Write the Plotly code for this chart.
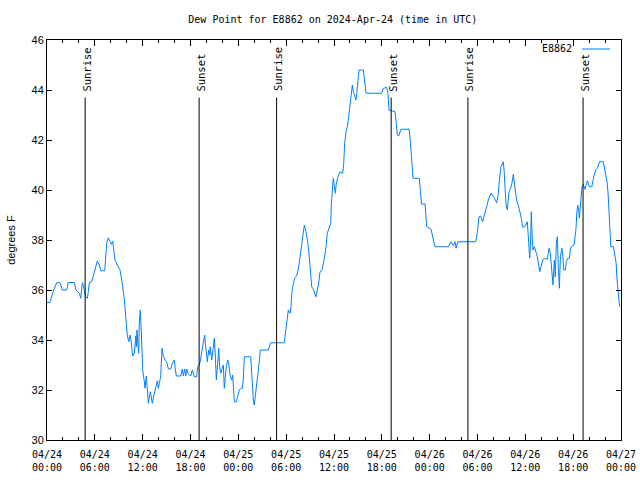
import pandas as pd
import plotly.graph_objects as go

start = pd.Timestamp("2024-04-24 00:00")
end = pd.Timestamp("2024-04-27 00:00")

# hours after 2024-04-24 00:00 UTC
obs_hours = [
    0.0, 0.38, 0.79, 1.22, 1.63, 1.92, 2.47, 2.67, 3.42, 3.64, 4.05, 4.23, 4.43, 4.60, 4.85,
    5.06, 5.18, 5.31, 5.61, 5.81, 6.02, 6.31, 6.56, 6.77, 7.24, 7.36, 7.49, 7.69, 7.90, 8.07,
    8.24, 8.37, 8.53, 8.82, 9.16, 9.41, 9.57, 9.70, 9.82, 9.91, 10.07, 10.25, 10.41, 10.54,
    10.66, 10.75, 10.95, 11.13, 11.20, 11.29, 11.41, 11.50, 11.58, 11.70, 11.83, 11.92, 12.00,
    12.21, 12.29, 12.46, 12.51, 12.63, 12.71, 12.83, 12.96, 13.08, 13.21, 13.42, 13.55, 13.71,
    13.84, 13.96, 14.09, 14.26, 14.43, 14.59, 14.80, 15.01, 15.22, 15.52, 15.72, 15.97, 16.06,
    16.22, 16.77, 16.97, 17.10, 17.27, 17.40, 17.52, 17.65, 18.03, 18.23, 18.48, 18.78, 18.90,
    19.07, 19.23, 19.44, 19.61, 19.78, 19.91, 20.11, 20.28, 20.41, 20.48, 20.66, 20.82, 20.99,
    21.11, 21.24, 21.41, 21.54, 21.66, 21.79, 21.99, 22.12, 22.24, 22.37, 22.49, 22.67, 22.79,
    22.96, 23.17, 23.29, 23.42, 23.50, 23.75, 23.92, 24.12, 24.34, 24.50, 24.62, 24.75, 25.55,
    25.68, 25.88, 26.00, 26.22, 26.38, 26.51, 26.63, 26.76, 27.76, 28.06, 29.77, 29.85, 29.94,
    30.07, 30.19, 30.27, 30.48, 30.61, 30.69, 30.82, 31.07, 31.32, 31.57, 31.82, 31.99, 32.15,
    32.28, 32.49, 32.70, 32.90, 33.08, 33.20, 33.40, 33.74, 33.90, 34.08, 34.24, 34.50, 34.75,
    35.00, 35.16, 35.41, 35.59, 35.66, 35.79, 35.91, 36.16, 36.29, 36.50, 36.75, 37.09, 37.22,
    37.34, 37.51, 37.72, 37.85, 38.01, 38.17, 38.30, 38.45, 38.63, 38.76, 38.85, 38.97, 39.14,
    39.68, 39.80, 40.02, 41.98, 42.18, 42.61, 42.77, 42.90, 43.65, 43.77, 43.94, 44.12, 44.41,
    45.41, 45.53, 45.75, 45.91, 46.70, 46.85, 46.97, 47.42, 47.63, 48.17, 48.29, 48.46, 48.67,
    50.34, 50.68, 50.97, 51.18, 51.31, 51.52, 53.77, 53.97, 54.19, 54.40, 54.65, 54.85, 55.07,
    55.36, 55.69, 56.07, 56.41, 56.61, 56.73, 56.95, 57.24, 57.36, 57.58, 57.74, 57.95, 58.16,
    58.36, 58.49, 58.66, 58.91, 59.16, 59.42, 59.67, 59.96, 60.25, 60.46, 60.55, 60.67, 60.75,
    60.88, 60.96, 61.13, 61.26, 61.38, 61.51, 61.68, 61.81, 61.97, 62.18, 62.38, 62.76, 62.97,
    63.14, 63.31, 63.47, 63.64, 63.76, 63.89, 64.02, 64.14, 64.27, 64.40, 64.57, 64.70, 64.82,
    65.02, 65.15, 65.33, 65.53, 65.66, 65.87, 66.12, 66.24, 66.36, 66.45, 66.57, 66.70, 66.78,
    66.86, 66.95, 67.11, 67.28, 67.49, 67.62, 67.79, 68.04, 68.34, 68.46, 68.63, 68.88, 69.04,
    69.17, 69.29, 69.78, 69.92, 70.04, 70.25, 70.38, 70.51, 70.60, 70.72, 71.05, 71.26, 71.39,
    71.48, 71.60, 71.77, 71.85,
]

dew_point_f = [
    35.5, 35.5, 35.96, 36.29, 36.3, 36.0, 36.0, 36.3, 36.3, 36.0, 35.87, 35.67, 36.3, 36.13, 35.73,
    35.67, 35.93, 36.3, 36.33, 36.6, 36.87, 37.16, 37.0, 36.77, 36.77, 37.47, 37.87, 38.09, 37.93, 37.83,
    37.95, 37.6, 37.2, 37.0, 36.8, 36.33, 36.03, 35.63, 35.13, 34.6, 34.2, 33.93, 34.2, 34.0,
    33.6, 33.37, 33.47, 34.16, 33.73, 34.4, 33.8, 33.47, 34.71, 35.2, 34.33, 33.6, 32.8,
    32.33, 32.07, 32.56, 32.13, 31.84, 31.47, 31.8, 31.93, 31.73, 31.47, 31.8, 32.0, 32.24,
    32.37, 32.07, 32.27, 32.53, 33.67, 33.36, 33.2, 33.13, 32.84, 32.84, 33.07, 33.2, 32.93,
    32.56, 32.56, 32.84, 32.56, 32.84, 32.56, 32.84, 32.67, 32.56, 32.8, 32.53, 32.53, 32.93,
    33.0, 33.13, 33.6, 34.0, 34.2, 33.7, 33.13, 33.6, 33.4, 33.73, 33.2, 33.6, 34.07,
    33.4, 32.4, 33.07, 33.67, 32.93, 32.67, 32.87, 33.0, 32.07, 32.67, 32.93, 33.2, 33.07,
    32.6, 32.4, 32.6, 31.8, 31.53, 31.53, 31.73, 32.0, 32.07, 32.07, 32.4, 33.33, 33.33,
    32.4, 31.6, 31.4, 31.93, 32.33, 32.73, 33.13, 33.6, 33.6, 33.89, 33.89, 34.13, 34.4,
    34.8, 35.2, 35.2, 35.07, 35.33, 35.8, 36.13, 36.47, 36.57, 36.93, 37.6, 38.0, 38.4,
    38.6, 38.33, 37.93, 37.33, 36.4, 36.13, 36.03, 35.73, 36.0, 36.27, 36.73, 36.8, 37.2,
    37.73, 38.27, 38.47, 38.67, 39.4, 39.93, 40.47, 39.87, 40.27, 40.53, 40.73, 40.67, 41.07,
    41.87, 42.33, 42.6, 43.0, 43.47, 43.87, 44.2, 43.9, 43.73, 43.6, 43.87, 44.2, 44.8,
    44.8, 44.4, 43.87, 43.87, 44.07, 44.1, 43.87, 43.2, 43.13, 42.8, 42.2, 42.16, 42.43,
    42.43, 42.13, 41.2, 40.47, 40.47, 40.0, 39.44, 39.44, 38.53, 38.43, 38.27, 38.0, 37.73,
    37.73, 37.93, 37.77, 37.93, 37.67, 37.93, 37.93, 38.27, 38.93, 38.96, 38.73, 39.0, 39.33,
    39.6, 39.87, 39.7, 39.49, 39.87, 40.33, 40.93, 41.13, 40.67, 39.4, 39.2, 39.93, 40.07,
    40.33, 40.63, 40.2, 39.6, 39.33, 39.0, 38.51, 38.53, 38.73, 37.6, 37.27, 38.0, 39.13,
    38.0, 37.6, 37.73, 37.53, 37.47, 37.33, 36.96, 36.73, 36.93, 37.2, 37.27, 37.23, 37.67,
    37.47, 36.8, 36.2, 37.2, 36.53, 37.87, 38.13, 36.93, 36.07, 37.33, 37.67, 37.4, 36.8,
    36.8, 37.13, 37.27, 37.27, 37.67, 37.76, 37.8, 38.07, 38.47, 39.07, 39.4, 39.13, 38.87,
    39.2, 39.73, 40.13, 40.22, 40.02, 40.2, 40.37, 40.13, 40.13, 40.33, 40.6, 40.83, 40.87,
    41.0, 41.13, 41.13, 40.93, 40.67, 40.33, 39.87, 39.13, 38.73, 37.73, 37.73, 37.4, 37.07,
    36.53, 36.0, 35.49, 35.33,
]

# sun events (hours after start) and their labels
sun_event_hours = [4.78, 19.08, 28.80, 43.17, 52.80, 67.24]
sun_event_labels = ["Sunrise", "Sunset", "Sunrise", "Sunset", "Sunrise", "Sunset"]
sun_line_top = 43.7

y_ticks = [30, 32, 34, 36, 38, 40, 42, 44, 46]

times = [start + pd.Timedelta(hours=h) for h in obs_hours]
sun_times = [start + pd.Timedelta(hours=h) for h in sun_event_hours]

mono = "DejaVu Sans Mono, Liberation Mono, monospace"
sans = "Liberation Sans, Arial, sans-serif"

fig = go.Figure()
fig.add_trace(go.Scatter(
    x=times, y=dew_point_f, mode="lines", name="E8862",
    line=dict(color="#0080FF", width=1), showlegend=False,
))

shapes = []
annotations = []
for t, lab in zip(sun_times, sun_event_labels):
    shapes.append(dict(type="line", xref="x", yref="y", x0=t, x1=t, y0=30, y1=sun_line_top,
                       line=dict(color="black", width=1)))
    annotations.append(dict(x=t, y=sun_line_top, xref="x", yref="y", text=lab, textangle=-90,
                            showarrow=False, xanchor="center", yanchor="bottom", yshift=4, xshift=1,
                            font=dict(family=mono, size=10.5, color="black")))

# legend drawn manually (text left of line sample, as in gnuplot)
annotations.append(dict(x=0.918, y=0.9775, xref="paper", yref="paper", text="E8862",
                        showarrow=False, xanchor="right", yanchor="middle",
                        font=dict(family=mono, size=10, color="black")))
shapes.append(dict(type="line", xref="paper", yref="paper", x0=0.932, x1=0.981, y0=0.9775, y1=0.9775,
                   line=dict(color="#0080FF", width=1)))

annotations.append(dict(x=-0.063, y=0.5, xref="paper", yref="paper", text="degrees F",
                        textangle=-90, showarrow=False, xanchor="center", yanchor="middle",
                        font=dict(family=sans, size=11, color="black")))

fig.update_layout(
    width=640, height=480,
    margin=dict(l=47, r=19, t=40, b=40),
    paper_bgcolor="white", plot_bgcolor="white",
    title=dict(text="Dew Point for E8862 on 2024-Apr-24 (time in UTC)", x=0.52, xanchor="center",
               y=1 - 19 / 480, yanchor="middle", yref="container",
               font=dict(family=mono, size=10, color="black")),
    shapes=shapes, annotations=annotations,
    xaxis=dict(
        type="date", range=[start, end], dtick=6 * 3600 * 1000, tick0=start, automargin=False,
        tickformat="%m/%d<br>%H:%M", ticks="inside", ticklen=6, tickcolor="black",
        showline=True, linecolor="black", linewidth=1, mirror="ticks", showgrid=False,
        zeroline=False, tickfont=dict(family=mono, size=10, color="black"),
        ticklabelstandoff=5,
        minor=dict(dtick=2 * 3600 * 1000, tick0=start, ticks="inside", ticklen=3,
                   tickcolor="black", showgrid=False),
    ),
    yaxis=dict(
        range=[30, 46], tickvals=y_ticks, ticks="inside", ticklen=5, tickcolor="black",
        automargin=False,
        showline=True, linecolor="black", linewidth=1, mirror="ticks", showgrid=False,
        zeroline=False, tickfont=dict(family=sans, size=11, color="black"),
    ),
)

fig.write_html("out.html")
